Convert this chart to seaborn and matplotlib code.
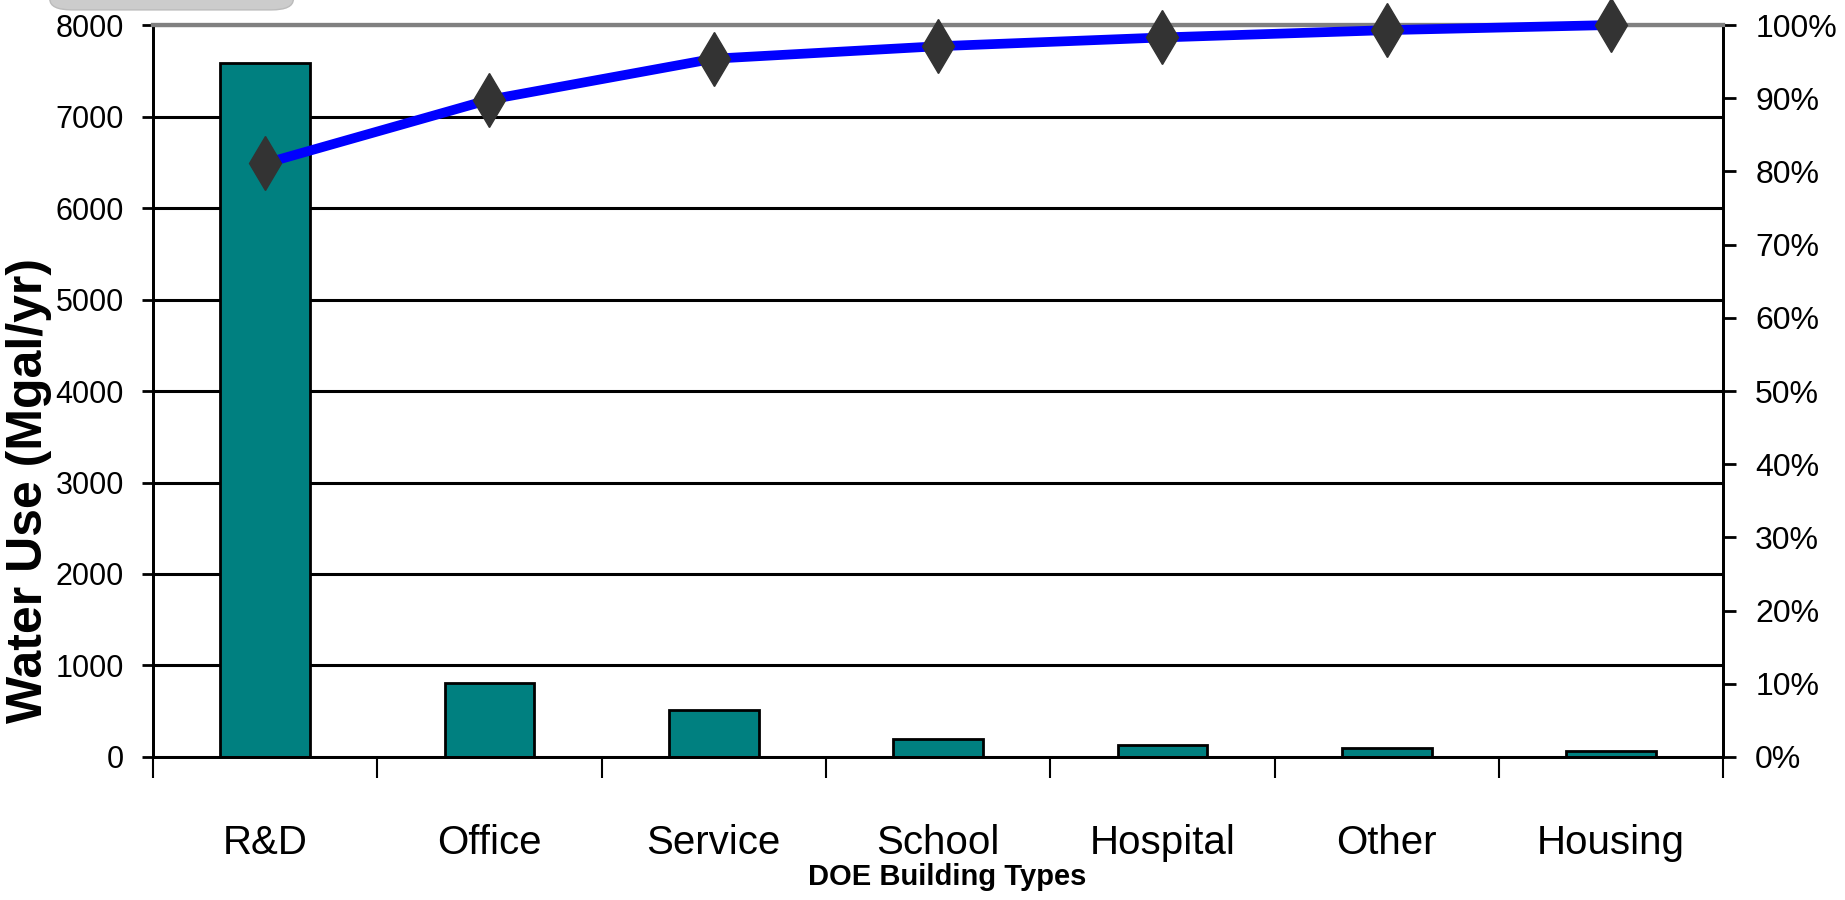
import numpy as np
import matplotlib
matplotlib.use("Agg")
import matplotlib.pyplot as plt
from matplotlib.patches import FancyBboxPatch
from matplotlib.ticker import FixedLocator, FuncFormatter
import seaborn as sns

# Данные (оценены по картинке)
building_types = ["R&D", "Office", "Service", "School", "Hospital", "Other", "Housing"]
water_use = [7580, 809, 517, 196, 128, 102, 69]          # Mgal/yr
cumulative_pct = [81.1, 89.8, 95.4, 97.1, 98.3, 99.3, 100.0]
left_ticks = [0, 1000, 2000, 3000, 4000, 5000, 6000, 7000, 8000]
right_ticks = [0, 10, 20, 30, 40, 50, 60, 70, 80, 90, 100]

sns.set_style("white", rc={"text.color": "black", "xtick.color": "black",
                           "ytick.color": "black", "axes.labelcolor": "black"})
plt.rcParams['font.family'] = ['Liberation Sans', 'DejaVu Sans']

fig = plt.figure(figsize=(18.45, 9), dpi=100)
ax = fig.add_axes([0.0829, 0.1589, 0.934 - 0.0829, 0.9722 - 0.1589])

# Столбцы
sns.barplot(x=building_types, y=water_use, color="#008080", saturation=1,
            edgecolor="black", linewidth=2, width=0.4, ax=ax, zorder=3)

ax.set_ylim(0, 8000)
ax.set_xlim(-0.5, len(building_types) - 0.5)
ax.yaxis.set_major_locator(FixedLocator(left_ticks))
ax.yaxis.grid(True, color="black", linewidth=2.2, zorder=1)
ax.set_axisbelow(True)
ax.tick_params(axis="y", which="major", direction="out", length=8, width=2,
               color="black", labelcolor="black", labelsize=22, pad=13, left=True)

ax.set_xticks(range(len(building_types)))
ax.set_xticklabels(building_types)
ax.set_xticks(np.arange(-0.5, len(building_types), 1.0), minor=True)
ax.tick_params(axis="x", which="major", length=0, labelsize=29, pad=48,
               labelcolor="black")
ax.tick_params(axis="x", which="minor", direction="out", length=15, width=1.5,
               color="black", bottom=True)
ax.set_xlabel("")
ax.set_ylabel("")

for side in ["left", "bottom", "right"]:
    ax.spines[side].set_color("black")
    ax.spines[side].set_linewidth(2)
ax.spines["top"].set_color("#808080")
ax.spines["top"].set_linewidth(3)

# Кумулятивная линия (Парето)
ax2 = ax.twinx()
ax2.plot(np.arange(len(building_types)), cumulative_pct, color="#0000ff",
         linewidth=7, marker="d", markersize=27, markerfacecolor="#333333",
         markeredgecolor="#333333", clip_on=False, zorder=5)
ax2.set_ylim(0, 100)
ax2.yaxis.set_major_locator(FixedLocator(right_ticks))
ax2.yaxis.set_major_formatter(FuncFormatter(lambda v, p: f"{int(v)}%"))
ax2.tick_params(axis="y", direction="out", length=9, width=2, color="black",
                labelcolor="black", labelsize=23, pad=14, right=True)
ax2.grid(False)
for side in ["left", "bottom", "right"]:
    ax2.spines[side].set_color("black")
    ax2.spines[side].set_linewidth(2)
ax2.spines["top"].set_color("#808080")
ax2.spines["top"].set_linewidth(3)

# Подписи осей
fig.text(0.0155, 0.455, "Water Use (Mgal/yr)", rotation=90, ha="center", va="center",
         fontsize=36, fontweight="bold", color="black")
fig.text(947 / 1845, 1 - 877 / 900, "DOE Building Types", ha="center", va="center",
         fontsize=21, fontweight="bold", color="black")

# Серая рамка сверху слева (обрезанная)
fig.patches.append(FancyBboxPatch((0.027, 0.989), 0.132, 0.06,
                                  boxstyle="round,pad=0,rounding_size=0.012",
                                  transform=fig.transFigure, facecolor="#cccccc",
                                  edgecolor="#bbbbbb", linewidth=1, zorder=0))

fig.savefig("out.png", dpi=100, facecolor="white")
